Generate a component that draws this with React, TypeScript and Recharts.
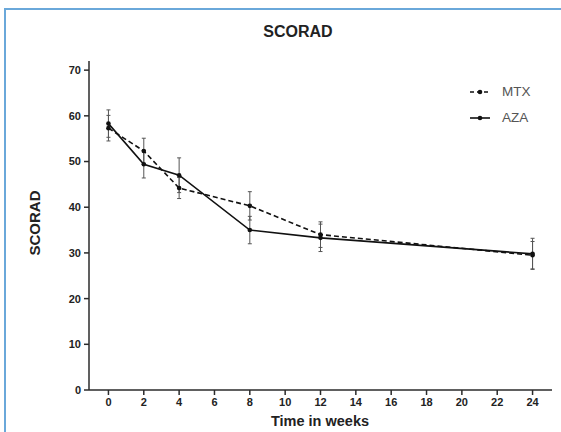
import React from 'react';
import { ComposedChart, Line, XAxis, YAxis, ErrorBar } from 'recharts';

const weeks = [0, 2, 4, 8, 12, 24];
const mtx = [57.3, 52.3, 44.2, 40.3, 34.0, 29.5];
const mtxErr = [2.8, 2.8, 2.3, 3.1, 2.8, 3.0];
const aza = [58.3, 49.4, 47.0, 35.0, 33.3, 29.8];
const azaErr = [3.0, 3.0, 3.8, 3.0, 3.0, 3.4];

const xTicks = [0, 2, 4, 6, 8, 10, 12, 14, 16, 18, 20, 22, 24];
const yTicks = [0, 10, 20, 30, 40, 50, 60, 70];

const data = weeks.map((w, i) => ({
  week: w,
  mtx: mtx[i],
  mtxErr: mtxErr[i],
  aza: aza[i],
  azaErr: azaErr[i],
}));

const font = 'Arial, "Liberation Sans", sans-serif';
const axisColor = '#2b2b2b';

export default function App() {
  return (
    <div
      style={{
        position: 'absolute',
        left: 0,
        top: 0,
        width: 561,
        height: 432,
        overflow: 'hidden',
        background: '#fff',
        fontFamily: font,
      }}
    >
      {/* blue frame of the figure */}
      <div
        style={{
          position: 'absolute',
          left: 4,
          top: 8,
          width: 700,
          height: 600,
          borderLeft: '2px solid #6aa8da',
          borderTop: '2px solid #6aa8da',
        }}
      />
      <div style={{ position: 'absolute', left: 0, top: 0 }}>
        <ComposedChart
          width={561}
          height={432}
          data={data}
          margin={{ top: 61, right: 9, bottom: 0, left: 0 }}
        >
          <XAxis
            dataKey="week"
            type="number"
            domain={[-1.1, 25.1]}
            ticks={xTicks}
            allowDataOverflow
            height={42}
            stroke={axisColor}
            strokeWidth={1.5}
            tickSize={5}
            tickMargin={3}
            tick={{ fill: '#222', fontSize: 11, fontWeight: 'bold', fontFamily: font }}
          />
          <YAxis
            type="number"
            domain={[0, 72]}
            ticks={yTicks}
            allowDataOverflow
            width={89}
            stroke={axisColor}
            strokeWidth={1.5}
            tickSize={5}
            tickMargin={3}
            tick={{ fill: '#222', fontSize: 11, fontWeight: 'bold', fontFamily: font }}
          />
          <Line
            dataKey="mtx"
            type="linear"
            stroke="#111"
            strokeWidth={1.6}
            strokeDasharray="5 3"
            dot={{ r: 2.3, fill: '#111', stroke: '#111', strokeWidth: 0 }}
            activeDot={false}
            isAnimationActive={false}
          >
            <ErrorBar dataKey="mtxErr" direction="y" width={2} stroke="#555" strokeWidth={1} />
          </Line>
          <Line
            dataKey="aza"
            type="linear"
            stroke="#111"
            strokeWidth={1.6}
            dot={{ r: 2.3, fill: '#111', stroke: '#111', strokeWidth: 0 }}
            activeDot={false}
            isAnimationActive={false}
          >
            <ErrorBar dataKey="azaErr" direction="y" width={2} stroke="#555" strokeWidth={1} />
          </Line>
        </ComposedChart>
      </div>

      {/* title */}
      <div
        style={{
          position: 'absolute',
          left: 198,
          width: 200,
          top: 22,
          textAlign: 'center',
          fontSize: 16,
          fontWeight: 'bold',
          color: '#222',
          lineHeight: '20px',
        }}
      >
        SCORAD
      </div>

      {/* y axis title */}
      <div
        style={{
          position: 'absolute',
          left: 35 - 60,
          top: 223 - 10,
          width: 120,
          height: 20,
          lineHeight: '20px',
          textAlign: 'center',
          fontSize: 15,
          fontWeight: 'bold',
          color: '#222',
          transform: 'rotate(-90deg)',
        }}
      >
        SCORAD
      </div>

      {/* x axis title */}
      <div
        style={{
          position: 'absolute',
          left: 220,
          width: 200,
          top: 413,
          textAlign: 'center',
          fontSize: 14.5,
          fontWeight: 'bold',
          color: '#222',
          lineHeight: '17px',
        }}
      >
        Time in weeks
      </div>

      {/* legend */}
      <svg style={{ position: 'absolute', left: 465, top: 80 }} width={30} height={50}>
        <line x1={5} y1={12} x2={25} y2={12} stroke="#111" strokeWidth={1.6} strokeDasharray="4 3" />
        <circle cx={15} cy={12} r={2.3} fill="#111" />
        <line x1={5} y1={38} x2={25} y2={38} stroke="#111" strokeWidth={1.6} />
        <circle cx={15} cy={38} r={2.3} fill="#111" />
      </svg>
      <div
        style={{
          position: 'absolute',
          left: 502,
          top: 84,
          fontSize: 13.5,
          color: '#555',
          lineHeight: '26px',
        }}
      >
        <div style={{ height: 16, lineHeight: '16px' }}>MTX</div>
        <div style={{ height: 16, lineHeight: '16px', marginTop: 10 }}>AZA</div>
      </div>
    </div>
  );
}
